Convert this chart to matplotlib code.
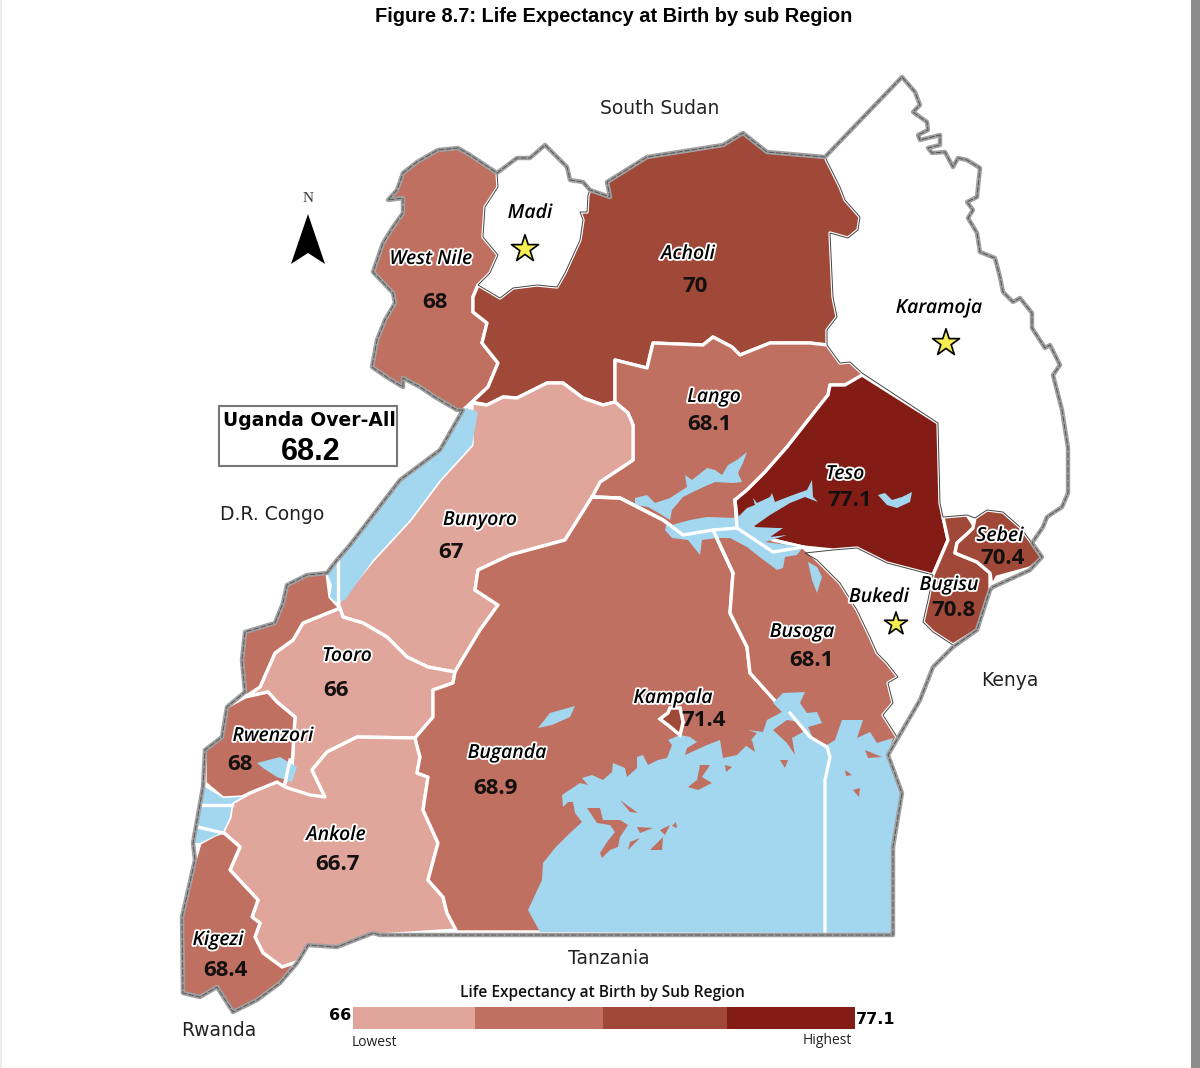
import matplotlib
matplotlib.use('Agg')
import matplotlib.pyplot as plt
import matplotlib.patheffects as pe
from matplotlib.colors import ListedColormap, BoundaryNorm
from matplotlib.patches import Polygon, Rectangle

# outlines, in image pixels
SOUTH_EDGE = [(463,410),(440,450),(400,480),(350,545),(337,560),(327,573),(307,575),(287,585),(283,603),(275,623),(245,632),(242,660),(245,692),(227,707),(222,737),(205,750),(203,787),(193,843),(195,860),(182,917),(183,993),(200,997),(217,987),(233,1012),(257,1000),(280,983),(297,963),(308,945),(337,947),(373,933),(380,935),(893,935),(893,847),(902,793),(888,755),(920,700),(933,667),(953,647),(977,630),(990,590),(993,587),(1030,570),(1042,557)]
EAST_EDGE = [(1032,543),(1043,527),(1047,517),(1062,507),(1068,493),(1068,448),(1062,410),(1053,375),(1060,365),(1050,345),(1045,348),(1032,328),(1032,313),(1020,298),(1013,302),(1003,292),(1000,277),(995,258),(980,252),(977,233),(968,218),(973,210),(967,202),(977,197),(980,168),(967,160),(958,158),(953,167),(945,152),(932,153),(928,148),(940,145),(940,135),(920,140),(918,135),(928,130),(927,122),(913,112),(920,105),(915,92),(902,77),(825,157)]
ACHOLI_TOP = [(825,157),(767,152),(743,133),(723,145),(647,157),(607,182),(610,197),(590,190)]
MADI_TOP = [(590,190),(583,182),(570,180),(567,167),(545,145),(530,158),(517,158),(497,173)]
WEST_NILE_EDGE = [(497,173),(470,155),(458,148),(438,150),(417,162),(403,173),(397,190),(388,200),(403,198),(403,213),(393,227),(383,243),(373,272),(393,293),(395,303),(385,320),(377,340),(372,367),(388,378),(403,387),(403,378),(420,387),(435,397),(457,410)]
BORDER = SOUTH_EDGE + EAST_EDGE + ACHOLI_TOP[1:] + MADI_TOP[1:] + WEST_NILE_EDGE[1:]

ACHOLI_EAST = [(825,157),(840,187),(845,200),(860,217),(858,230),(848,238),(830,233),(833,297),(837,317),(827,330),(827,345)]
ACHOLI_SOUTH = [(810,343),(770,343),(740,355),(732,347),(713,337),(703,345),(653,343),(647,368),(615,360),(615,393),(615,402),(603,405),(583,398),(563,383),(547,383),(517,398),(503,397),(487,405),(472,402),(488,387),(498,363),(482,343),(487,323),(473,312),(473,297),(478,285),(500,298),(513,288),(537,285),(557,287),(565,273),(580,240),(583,220),(580,212),(587,212),(588,195)]

WEST_NILE = WEST_NILE_EDGE + [(463,410),(472,402),(488,387),(498,363),(482,343),(487,323),(473,312),(473,297),(478,285),(490,273),(498,255),(483,237),(485,207),(498,187)]
MADI = MADI_TOP + [(498,187),(485,207),(483,237),(498,255),(490,273),(478,285),(500,298),(513,288),(537,285),(557,287),(565,273),(580,240),(583,220),(580,212),(587,212),(588,195)]
ACHOLI = ACHOLI_TOP[::-1] + ACHOLI_EAST[1:] + ACHOLI_SOUTH
KARAMOJA = EAST_EDGE + ACHOLI_EAST[1:] + [(840,363),(850,362),(862,373),(938,423),(940,503),(943,517),(967,515),(975,518),(987,510),(1003,512),(1020,527)]
LANGO = [(615,360),(647,368),(653,343),(703,345),(713,337),(732,347),(740,355),(770,343),(810,343),(827,345),(840,363),(850,362),(862,373),(862,378),(845,385),(830,385),(828,395),(820,405),(787,447),(765,472),(747,490),(735,500),(737,528),(713,530),(683,535),(663,520),(620,498),(592,497),(600,482),(633,460),(633,425),(628,413),(615,402),(615,393)]
TESO = [(862,375),(938,423),(940,503),(943,517),(948,540),(933,575),(887,563),(857,548),(833,550),(803,547),(773,540),(737,518),(735,500),(747,490),(765,472),(787,447),(820,405),(828,395),(830,385),(845,385)]
BUNYORO = [(472,403),(487,405),(503,397),(517,398),(547,383),(563,383),(583,398),(603,405),(615,402),(628,413),(633,425),(633,460),(600,482),(592,497),(565,540),(510,555),(478,570),(475,590),(498,605),(480,630),(462,660),(455,672),(428,667),(407,657),(387,637),(363,623),(343,617),(338,603),(373,560),(410,520),(440,480),(472,445)]
TOORO = [(340,608),(343,617),(363,623),(387,637),(407,657),(428,667),(455,672),(453,683),(433,690),(433,717),(415,738),(357,737),(327,752),(312,770),(325,797),(317,800),(293,790),(283,787),(292,767),(295,717),(277,702),(268,692),(245,697),(260,687),(275,653),(293,640),(303,623)]
RWENZORI_NORTH = [(245,697),(260,687),(275,653),(293,640),(303,623),(340,608),(330,597),(327,573),(307,575),(287,585),(283,603),(275,623),(245,632),(242,660),(245,692)]
RWENZORI = [(245,697),(268,692),(277,702),(295,717),(292,767),(283,787),(258,790),(242,797),(223,798),(205,783),(205,750),(222,737),(227,707)]
ANKOLE = [(415,738),(420,757),(417,773),(428,777),(423,810),(438,843),(428,880),(443,897),(447,913),(457,930),(380,935),(373,933),(337,947),(308,945),(297,962),(282,967),(263,953),(255,937),(260,923),(252,917),(258,900),(230,870),(240,847),(223,832),(230,817),(232,803),(250,793),(277,782),(285,787),(310,795),(325,797),(312,770),(327,752),(357,737)]
KIGEZI = [(200,843),(215,835),(223,832),(240,847),(230,870),(258,900),(252,917),(260,923),(255,937),(263,953),(282,967),(297,962),(280,983),(257,1000),(233,1012),(217,987),(200,997),(183,993),(182,917),(195,860)]
BUGANDA = [(415,738),(433,717),(433,690),(453,683),(455,672),(462,660),(480,630),(498,605),(475,590),(478,570),(510,555),(565,540),(592,497),(620,498),(663,520),(683,535),(713,530),(733,573),(730,613),(747,647),(750,673),(777,703),(790,713),(810,737),(830,757),(825,932),(457,932),(447,913),(443,897),(428,880),(438,843),(423,810),(428,777),(417,773),(420,757)]
BUSOGA = [(713,530),(737,518),(773,540),(803,547),(817,560),(840,583),(857,610),(870,637),(877,653),(887,663),(898,677),(888,683),(893,703),(883,715),(897,737),(888,755),(830,757),(810,737),(790,713),(777,703),(750,673),(747,647),(730,613),(733,573)]
BUKEDI = [(805,553),(817,560),(840,583),(857,610),(870,637),(877,653),(887,663),(898,677),(888,683),(893,703),(883,715),(897,737),(888,755),(920,700),(933,667),(953,645),(933,632),(923,622),(928,600),(933,575),(887,563),(857,548),(833,550)]
BUGISU = [(943,517),(967,515),(975,527),(957,543),(955,553),(977,562),(990,573),(990,590),(977,630),(953,645),(933,632),(923,622),(928,600),(933,575),(948,540)]
SEBEI = [(975,518),(987,510),(1003,512),(1020,527),(1032,543),(1042,558),(1030,568),(997,577),(992,587),(990,573),(977,562),(955,553),(957,543),(968,533),(973,528)]
KAMPALA = [(670,708),(680,708),(683,722),(680,735),(668,725),(660,719),(668,713)]

REGION_OUTLINES = [WEST_NILE, MADI, ACHOLI, KARAMOJA, LANGO, TESO, BUNYORO, TOORO, RWENZORI_NORTH, RWENZORI, ANKOLE, KIGEZI, BUGANDA, BUSOGA, BUKEDI, BUGISU, SEBEI, KAMPALA]
REGION_VALUES = [68, None, 70, None, 68.1, 77.1, 67, 66, 68, 68, 66.7, 68.4, 68.9, 68.1, None, 70.8, 70.4, 71.4]

# water
ALBERT = [(466,408),(478,412),(472,445),(440,480),(410,520),(373,560),(345,600),(337,603),(330,597),(332,585),(327,573),(337,560),(350,545),(400,480),(440,450)]
EDWARD = [(205,787),(223,798),(242,797),(232,803),(230,817),(223,832),(200,843),(193,843)]
GEORGE = [(257,763),(280,757),(297,767),(292,782),(277,777),(263,768)]
KYOGA_MAIN = [(667,522),(665,530),(672,538),(688,540),(700,555),(702,540),(717,538),(730,538),(747,547),(757,555),(777,570),(783,568),(785,557),(797,555),(803,547),(765,542),(787,535),(770,537),(783,528),(777,528),(753,527),(770,515),(790,503),(805,497),(818,502),(813,497),(812,480),(807,490),(793,495),(785,498),(775,502),(772,493),(770,497),(757,503),(753,498),(755,505),(747,508),(737,518),(707,517),(690,520),(672,525)]
KYOGA_NORTH = [(635,498),(647,495),(655,503),(670,498),(687,487),(685,475),(692,480),(707,468),(715,470),(722,475),(728,465),(737,460),(747,452),(743,463),(738,473),(742,482),(733,483),(715,482),(697,490),(683,497),(672,510),(670,520),(657,512),(648,507),(635,505)]
KYOGA_EAST = [(878,495),(885,493),(892,500),(902,497),(912,492),(910,502),(897,508),(887,505)]
KYOGA_ARM = [(808,562),(817,567),(822,577),(817,593),(812,580)]
WAMALA = [(538,728),(550,713),(575,706),(570,717),(552,725)]
VICTORIA = [(540,932),(528,910),(542,880),(543,863),(555,848),(570,833),(582,822),(575,813),(573,802),(568,802),(563,807),(562,795),(580,783),(588,785),(582,778),(592,775),(603,780),(612,772),(613,763),(625,768),(627,777),(637,768),(637,757),(643,755),(648,765),(658,760),(667,758),(672,745),(668,740),(680,735),(690,737),(697,742),(687,748),(685,755),(707,745),(720,740),(723,758),(737,755),(747,745),(757,733),(748,730),(763,732),(767,720),(782,712),(773,703),(783,693),(805,692),(800,703),(807,713),(817,712),(822,723),(808,727),(813,738),(827,745),(835,740),(842,720),(863,720),(857,738),(870,732),(877,743),(893,738),(888,755),(902,793),(893,847),(893,933)]
WATER = [ALBERT, EDWARD, GEORGE, KYOGA_MAIN, KYOGA_NORTH, KYOGA_EAST, KYOGA_ARM, WAMALA, VICTORIA]

# islands in Lake Victoria
ISLANDS = [
    [(587,808),(600,808),(603,820),(620,820),(628,825),(620,837),(618,847),(610,850),(602,858),(600,853),(607,842),(615,832),(610,825),(597,823)],
    [(700,765),(710,765),(702,777),(712,783),(698,790),(688,787),(697,780)],
    [(853,790),(860,788),(859,797)],
    [(780,760),(788,760),(785,768)],
    [(773,730),(787,720),(800,722),(803,732),(792,738),(795,755),(787,743)],
    [(865,750),(882,757),(868,758)],
    [(845,770),(852,775),(846,776)],
    [(650,850),(663,837),(662,850)],
    [(637,827),(653,828),(640,833)],
    [(620,800),(638,813),(630,812)],
    [(630,842),(640,838),(628,850)],
    [(672,826),(676,822),(677,828)],
    [(660,830),(670,825),(665,835)],
    [(725,765),(732,767),(726,772)],
    [(745,745),(752,740),(755,752)],
]

# white lines running across water
WATER_LINES = [
    [(338,560),(338,603)],
    [(290,760),(285,783)],
    [(203,805),(232,805)],
    [(198,827),(223,833)],
    [(592,497),(620,498),(663,520),(683,535),(713,530),(737,528),(773,552),(803,547)],
    [(713,530),(733,573)],
    [(735,500),(737,528)],
    [(790,713),(810,737),(827,747),(830,757),(825,780),(825,932)],
]

LABELS = ['West Nile','Madi','Acholi','Karamoja','Lango','Teso','Bunyoro','Tooro','Rwenzori','Ankole','Kigezi','Buganda','Busoga','Bukedi','Bugisu','Sebei','Kampala']
LABEL_X = [431,530,688,939,714,845,480,347,273,336,218,507,802,879,949,1000,673]
LABEL_Y = [259,213,254,308,397,474,520,656,736,835,940,753,632,597,585,536,698]
VALUE_TEXT = ['68','70','68.1','77.1','67','66','68','66.7','68.4','68.9','68.1','70.8','70.4','71.4']
VALUE_X = [435,695,709,850,451,336,240,338,225,495,811,954,1003,704]
VALUE_Y = [302,286,424,500,552,690,764,864,970,788,661,610,558,721]
STAR_X = [525,946,896]
STAR_Y = [249,343,624]
STAR_SIZE = [420,420,300]
COUNTRIES = ['South Sudan','D.R. Congo','Kenya','Tanzania','Rwanda']
COUNTRY_X = [660,272,1010,609,219]
COUNTRY_Y = [108,515,681,958,1031]

BAND_COLORS = ['#e0a69b','#c07060','#a04938','#821c14']
BAND_EDGES = [65,67.5,69.5,75,80]
LEGEND_BREAKS = [353,475,603,727,855]

cmap = ListedColormap(BAND_COLORS)
norm = BoundaryNorm(BAND_EDGES, cmap.N)

fig = plt.figure(figsize=(12,10.68), dpi=100)
ax = fig.add_axes([0,0,1,1])
ax.set_xlim(0,1200)
ax.set_ylim(1068,0)
ax.axis('off')

# screenshot edges
ax.add_patch(Rectangle((1191,0), 9, 1068, fc='#8c8c8c', ec='none'))
ax.add_patch(Rectangle((0,0), 2, 1068, fc='#ececec', ec='none'))

ax.add_patch(Polygon(BORDER, closed=True, fc='white', ec='none', zorder=1))
for outline, val in zip(REGION_OUTLINES, REGION_VALUES):
    if val is not None:
        ax.add_patch(Polygon(outline, closed=True, fc=cmap(norm(val)), ec='white', lw=2.4, joinstyle='round', zorder=2))
for lake in WATER:
    ax.add_patch(Polygon(lake, closed=True, fc='#a3d6ef', ec='none', zorder=3))
for isl in ISLANDS:
    ax.add_patch(Polygon(isl, closed=True, fc=BAND_COLORS[1], ec='none', zorder=4))
for seg in WATER_LINES:
    ax.plot(*zip(*seg), color='white', lw=2.4, solid_joinstyle='round', zorder=4)
ax.add_patch(Polygon(KAMPALA, closed=True, fc=BAND_COLORS[2], ec='white', lw=2.4, zorder=5))
for outline, val in zip(REGION_OUTLINES, REGION_VALUES):
    if val is None:
        ax.add_patch(Polygon(outline, closed=True, fc='none', ec='#444444', lw=0.7, zorder=5))

# country border, grey with a dark dashed core
ax.add_patch(Polygon(BORDER, closed=True, fc='none', ec='#a0a0a0', lw=3.2, joinstyle='round', zorder=6))
ax.add_patch(Polygon(BORDER, closed=True, fc='none', ec='#555555', lw=0.7, ls=(0,(6,1.5)), zorder=7))

halo = [pe.withStroke(linewidth=2.6, foreground='white')]
for name, x, y in zip(LABELS, LABEL_X, LABEL_Y):
    ax.text(x, y, name, fontsize=14, family='Open Sans', style='italic', weight='semibold', color='black',
            ha='center', va='center', path_effects=halo, zorder=9)
for txt, x, y in zip(VALUE_TEXT, VALUE_X, VALUE_Y):
    ax.text(x, y, txt, fontsize=16, family='Open Sans', weight='bold', color='#151010',
            ha='center', va='center', zorder=9)
ax.scatter(STAR_X, STAR_Y, s=STAR_SIZE, marker='*', c='#f5ee50', edgecolors='black', linewidths=1.2, zorder=8)

for name, x, y in zip(COUNTRIES, COUNTRY_X, COUNTRY_Y):
    ax.text(x, y, name, fontsize=13.5, family='DejaVu Sans', color='#222222', ha='center', va='center', zorder=9)

ax.text(614, 16, 'Figure 8.7: Life Expectancy at Birth by sub Region', fontsize=14.4, family='Liberation Sans',
        weight='bold', ha='center', va='center')

# north arrow
ax.add_patch(Polygon([(308,214),(291,264),(308,253),(325,264)], closed=True, fc='black', ec='none'))
ax.text(308, 199, 'N', fontsize=11, family='Liberation Serif', color='#333333', ha='center', va='center')

# overall box
ax.add_patch(Rectangle((219,406), 178, 60, fc='white', ec='#777777', lw=1.5))
ax.text(309, 421, 'Uganda Over-All', fontsize=13.5, family='DejaVu Sans', weight='bold', ha='center', va='center')
ax.text(311, 452, '68.2', fontsize=22, family='Liberation Sans', weight='bold', ha='center', va='center')

# legend
for left, right, col in zip(LEGEND_BREAKS[:-1], LEGEND_BREAKS[1:], BAND_COLORS):
    ax.add_patch(Rectangle((left,1007), right-left, 22, fc=col, ec='none'))
ax.text(602, 993, 'Life Expectancy at Birth by Sub Region', fontsize=11.2, family='Open Sans', weight='semibold',
        ha='center', va='center', color='#111111')
ax.text(351, 1016, '66', fontsize=11.5, family='DejaVu Sans', weight='bold', ha='right', va='center')
ax.text(856, 1019, '77.1', fontsize=11.5, family='DejaVu Sans', weight='bold', ha='left', va='center')
ax.text(352, 1042, 'Lowest', fontsize=10, family='Open Sans', color='#222222', ha='left', va='center')
ax.text(852, 1041, 'Highest', fontsize=10, family='Open Sans', color='#222222', ha='right', va='center')

plt.savefig('out.png', dpi=100)
